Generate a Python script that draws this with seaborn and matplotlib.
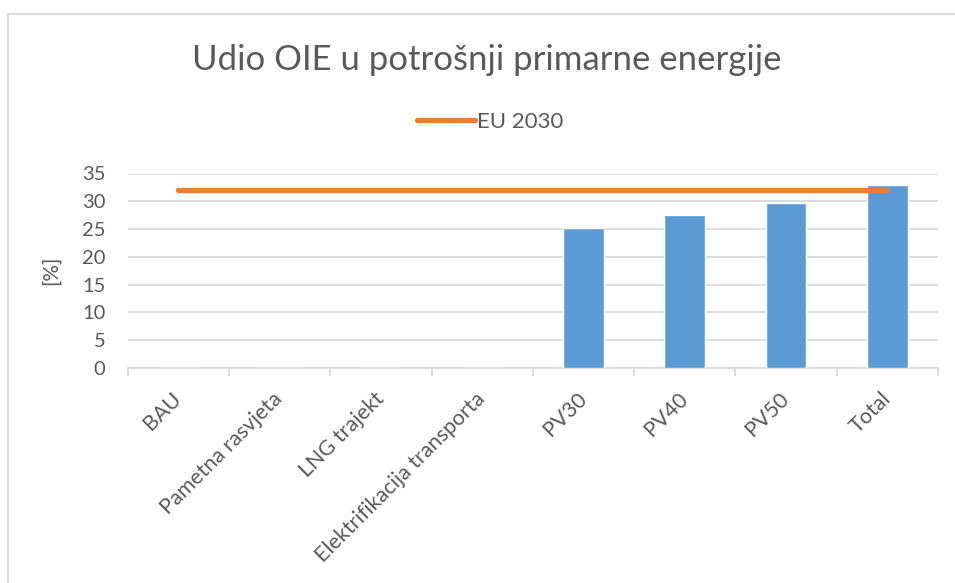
import matplotlib
matplotlib.use("Agg")
import matplotlib.pyplot as plt
from matplotlib.patches import Rectangle
from matplotlib.lines import Line2D
import seaborn as sns
import pandas as pd

categories = ["BAU", "Pametna rasvjeta", "LNG trajekt", "Elektrifikacija transporta",
              "PV30", "PV40", "PV50", "Total"]
share_values = [0, 0, 0, 0, 25.2, 27.5, 29.7, 32.9]
eu_2030 = [32, 32, 32, 32, 32, 32, 32, 32]
y_ticks = [0, 5, 10, 15, 20, 25, 30, 35]

BLUE = "#5B9BD5"
ORANGE = "#ED7D31"
TEXT = "#595959"
GRID = "#D9D9D9"

sns.set_theme(style="white")
plt.rcParams["font.family"] = ["Lato", "DejaVu Sans"]

W, H = 955, 583
fig = plt.figure(figsize=(W / 100, H / 100), dpi=100)

# frame around the chart area
fig.patches.append(Rectangle((7.5 / W, -0.1), 1.2, (H - 13.5) / H + 0.1,
                             transform=fig.transFigure, fill=False,
                             edgecolor="#D9D9D9", linewidth=1.5))

ax = fig.add_axes([127.6 / W, 215 / H, (938 - 127.6) / W, 194.5 / H])

df = pd.DataFrame({"kategorija": categories, "udio": share_values, "eu": eu_2030})

sns.barplot(data=df, x="kategorija", y="udio", color=BLUE, width=0.4,
            saturation=1, ax=ax, zorder=2)
sns.lineplot(data=df, x="kategorija", y="eu", color=ORANGE, linewidth=3.8,
             ax=ax, sort=False, zorder=3, solid_capstyle="round")

ax.set_ylim(0, 35)
ax.set_xlim(-0.5, len(categories) - 0.5)
ax.set_yticks(y_ticks)
ax.yaxis.grid(True, color=GRID, linewidth=1.3, zorder=0)
ax.set_axisbelow(True)

for s in ["top", "right", "left"]:
    ax.spines[s].set_visible(False)
ax.spines["bottom"].set_color(GRID)
ax.spines["bottom"].set_linewidth(1.3)
ax.spines["bottom"].set_zorder(1)

ax.set_xticks(range(len(categories)))
ax.set_xticks([i - 0.5 for i in range(len(categories) + 1)], minor=True)
ax.tick_params(axis="x", which="major", bottom=True, length=0, pad=20,
               labelsize=15.5, labelcolor=TEXT)
ax.tick_params(axis="x", which="minor", bottom=True, length=6, width=1.3,
               color=GRID, direction="out")
ax.tick_params(axis="y", length=0, pad=16, labelsize=14.5, labelcolor=TEXT)
ax.set_xticklabels(categories, rotation=45, ha="right", va="center",
                   rotation_mode="anchor")

ax.set_xlabel("")
ax.set_ylabel("[%]", fontsize=15, color=TEXT, labelpad=15)

fig.text(487 / W, 1 - 60 / H, "Udio OIE u potrošnji primarne energije",
         ha="center", va="center", fontsize=25, color=TEXT)

handle = Line2D([0], [0], color=ORANGE, linewidth=3.8, solid_capstyle="round")
fig.legend([handle], ["EU 2030"], loc="center", bbox_to_anchor=(490 / W, 1 - 122 / H),
           frameon=False, fontsize=16, labelcolor=TEXT, handlelength=2.6,
           handletextpad=0.1)

fig.savefig("out.png", dpi=100, facecolor="white")
